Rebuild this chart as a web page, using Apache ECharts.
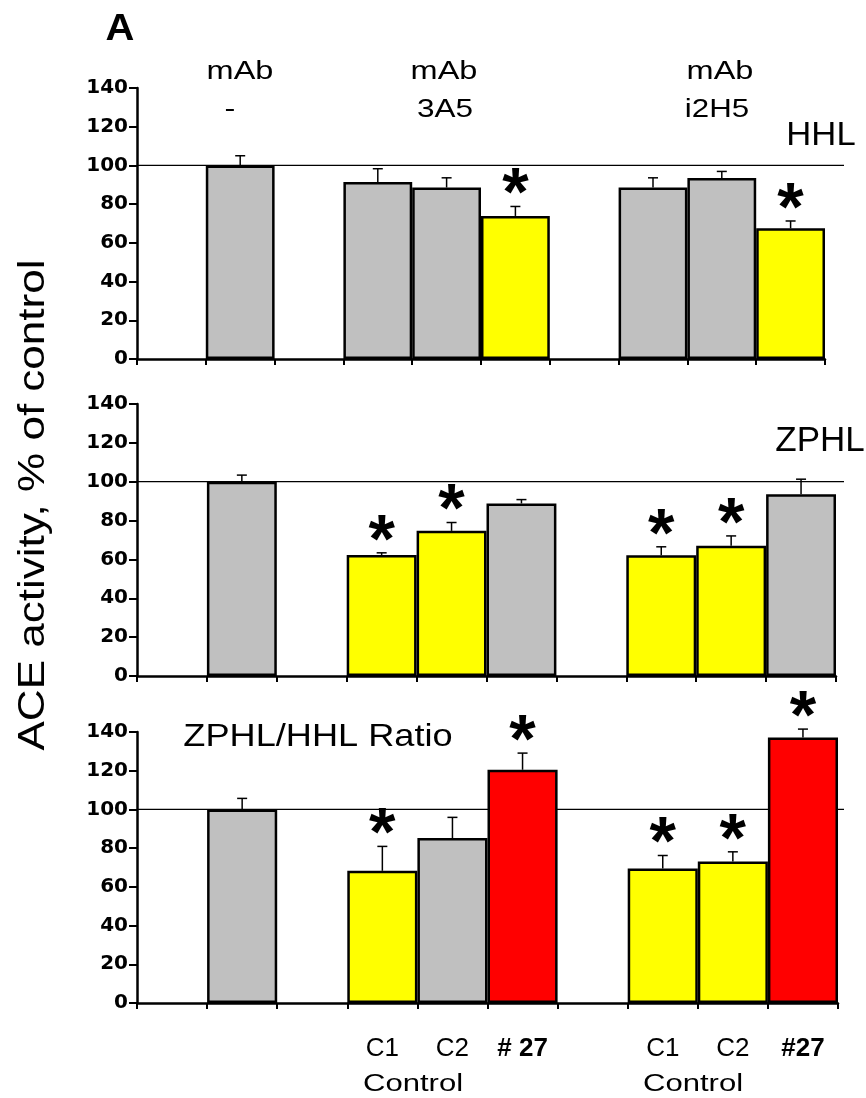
<!DOCTYPE html>
<html>
<head>
<meta charset="utf-8">
<script src="https://cdn.jsdelivr.net/npm/echarts@6/dist/echarts.min.js"></script>
<style>
  html, body { margin: 0; padding: 0; background: #fff; }
  #chart { width: 866px; height: 1098px; }
</style>
</head>
<body>
<div id="chart"></div>
<script>
// ---------------- DATA ----------------
const categories = ['gap0', 'mAb -', 'gap1', '3A5 C1', '3A5 C2', '3A5 #27', 'gap2', 'i2H5 C1', 'i2H5 C2', 'i2H5 #27'];
const tickLabels = ['', '', '', 'C1', 'C2', '# 27', '', 'C1', 'C2', '#27'];

// HHL (% of control)
const hhlValues = [null, 100, null, 91.4, 88.6, 73.9, null, 88.6, 93.5, 67.5];
const hhlErrors = [null, 5.0, null, 6.9, 5.0, 4.9, null, 5.0, 3.4, 3.8];
const hhlSignif = [0, 0, 0, 0, 0, 1, 0, 0, 0, 1];

// ZPHL (% of control)
const zphlValues = [null, 100, null, 62.3, 74.7, 88.8, null, 62.2, 67.1, 93.6];
const zphlErrors = [null, 3.4, null, 1.1, 4.3, 2.0, null, 4.3, 5.0, 7.7];
const zphlSignif = [0, 0, 0, 1, 1, 0, 0, 1, 1, 0];

// ZPHL/HHL ratio (% of control)
const ratioValues = [null, 100, null, 68.3, 85.2, 120.5, null, 69.5, 73.1, 137.2];
const ratioErrors = [null, 5.7, null, 12.6, 10.7, 8.6, null, 6.7, 5.0, 4.3];
const ratioSignif = [0, 0, 0, 1, 0, 1, 0, 1, 1, 1];

const yTicks = { min: 0, max: 140, interval: 20 };
const referenceValue = 100;

// ---------------- STYLE ----------------
const FONT = "'Liberation Sans', Arial, sans-serif";
const GRAY = '#C0C0C0', YELLOW = '#FFFF00', RED = '#FF0000';
const REF_LINE_END_X = 844;
const STAR_GAP = 10;

const panels = [
  { values: hhlValues, errors: hhlErrors, signif: hhlSignif, grid: { left: 137, top: 88, width: 688, height: 271 }, showLabels: false },
  { values: zphlValues, errors: zphlErrors, signif: zphlSignif, grid: { left: 137, top: 404, width: 699, height: 272 }, showLabels: false },
  { values: ratioValues, errors: ratioErrors, signif: ratioSignif, grid: { left: 137, top: 732, width: 701, height: 271 }, showLabels: true }
];

function barColor(p, i) {
  const v = p.values[i];
  if (!p.signif[i]) return GRAY;
  return v > referenceValue ? RED : YELLOW;
}

const grids = [], xAxes = [], yAxes = [], series = [];
panels.forEach((p, k) => {
  grids.push(Object.assign({ containLabel: false }, p.grid));
  xAxes.push({
    type: 'category', gridIndex: k, data: categories, boundaryGap: true,
    axisLine: { show: true, lineStyle: { color: '#000', width: 2.5 } },
    axisTick: { show: true, interval: 0, length: 6, lineStyle: { color: '#000', width: 2 } },
    axisLabel: {
      show: p.showLabels, interval: 0, margin: 33,
      fontFamily: FONT, fontSize: 26, color: '#000',
      formatter: (v, idx) => {
        const t = tickLabels[idx];
        if (!t) return '';
        return t.indexOf('#') === 0 ? '{b|' + t + '}' : '{n|' + t + '}';
      },
      rich: {
        n: { fontFamily: FONT, fontSize: 26, color: '#000' },
        b: { fontFamily: FONT, fontSize: 26, fontWeight: 'bold', color: '#000' }
      }
    },
    splitLine: { show: false }
  });
  yAxes.push({
    type: 'value', gridIndex: k, min: yTicks.min, max: yTicks.max, interval: yTicks.interval,
    axisLine: { show: true, lineStyle: { color: '#000', width: 2.5 } },
    axisTick: { show: true, length: 8, lineStyle: { color: '#000', width: 2 } },
    axisLabel: { fontFamily: "'DejaVu Sans', sans-serif", fontWeight: 'bold', fontSize: 20, color: '#000', margin: 9 },
    splitLine: { show: false }
  });
  // reference line at 100 (behind bars)
  series.push({
    type: 'custom', xAxisIndex: k, yAxisIndex: k, z: 1, silent: true,
    data: [[0, referenceValue]],
    renderItem: (params, api) => {
      const pt = api.coord([0, api.value(1)]);
      const cs = params.coordSys;
      return { type: 'line', shape: { x1: cs.x, y1: pt[1], x2: REF_LINE_END_X, y2: pt[1] },
               style: { stroke: '#000', lineWidth: 1.2 } };
    }
  });
  // bars
  series.push({
    type: 'bar', xAxisIndex: k, yAxisIndex: k, z: 2,
    barWidth: '100%', barCategoryGap: 0,
    data: p.values.map((v, i) => v == null ? null : { value: v, itemStyle: { color: barColor(p, i) } }),
    itemStyle: { borderColor: '#000', borderWidth: 2.5 },
    emphasis: { disabled: true }
  });
  // error bars + significance stars
  const errData = [];
  p.values.forEach((v, i) => { if (v != null) errData.push([i, v, p.errors[i], p.signif[i]]); });
  series.push({
    type: 'custom', xAxisIndex: k, yAxisIndex: k, z: 3, silent: true,
    data: errData,
    renderItem: (params, api) => {
      const i = api.value(0), v = api.value(1), e = api.value(2), s = api.value(3);
      const base = api.coord([i, v]);
      const top = api.coord([i, v + e]);
      const children = [
        { type: 'line', shape: { x1: base[0], y1: base[1], x2: top[0], y2: top[1] }, style: { stroke: '#000', lineWidth: 1.5 } },
        { type: 'line', shape: { x1: top[0] - 5, y1: top[1], x2: top[0] + 5, y2: top[1] }, style: { stroke: '#000', lineWidth: 1.5 } }
      ];
      if (s) {
        children.push({ type: 'text', x: top[0], y: top[1] - STAR_GAP,
          style: { text: '*', fontFamily: FONT, fontWeight: 'bold', fontSize: 68, fill: '#000', align: 'center', verticalAlign: 'middle' } });
      }
      return { type: 'group', children };
    }
  });
});

function txt(text, x, y, size, opts) {
  opts = opts || {};
  return {
    type: 'text', x: x, y: y, scaleX: opts.sx || 1, rotation: opts.rot || 0, z: 10,
    style: { text: text, fontFamily: FONT, fontSize: size, fontWeight: opts.bold ? 'bold' : 'normal',
             fill: '#000', align: 'center', verticalAlign: 'middle' }
  };
}

const graphics = [
  txt('A', 120, 30, 37, { bold: true, sx: 1.08 }),
  txt('mAb', 240, 72, 25, { sx: 1.3 }),
  txt('-', 230, 110, 25, { sx: 1.3 }),
  txt('mAb', 444, 72, 25, { sx: 1.3 }),
  txt('3A5', 445, 110, 25, { sx: 1.26 }),
  txt('mAb', 720, 72, 25, { sx: 1.3 }),
  txt('i2H5', 717, 110, 25, { sx: 1.25 }),
  txt('HHL', 821, 136, 33, { sx: 1.05 }),
  txt('ZPHL', 820, 441, 35, { sx: 1.0 }),
  txt('ZPHL/HHL Ratio', 318, 737, 32, { sx: 1.13 }),
  txt('Control', 413, 1085, 23, { sx: 1.35 }),
  txt('Control', 693, 1085, 23, { sx: 1.35 }),
  txt('ACE activity, % of control', 34, 505, 37, { sx: 1.19, rot: Math.PI / 2 })
];

const chart = echarts.init(document.getElementById('chart'), null, { renderer: 'canvas' });
chart.setOption({
  backgroundColor: '#fff',
  animation: false,
  grid: grids,
  xAxis: xAxes,
  yAxis: yAxes,
  series: series,
  graphic: graphics
});
</script>
</body>
</html>
